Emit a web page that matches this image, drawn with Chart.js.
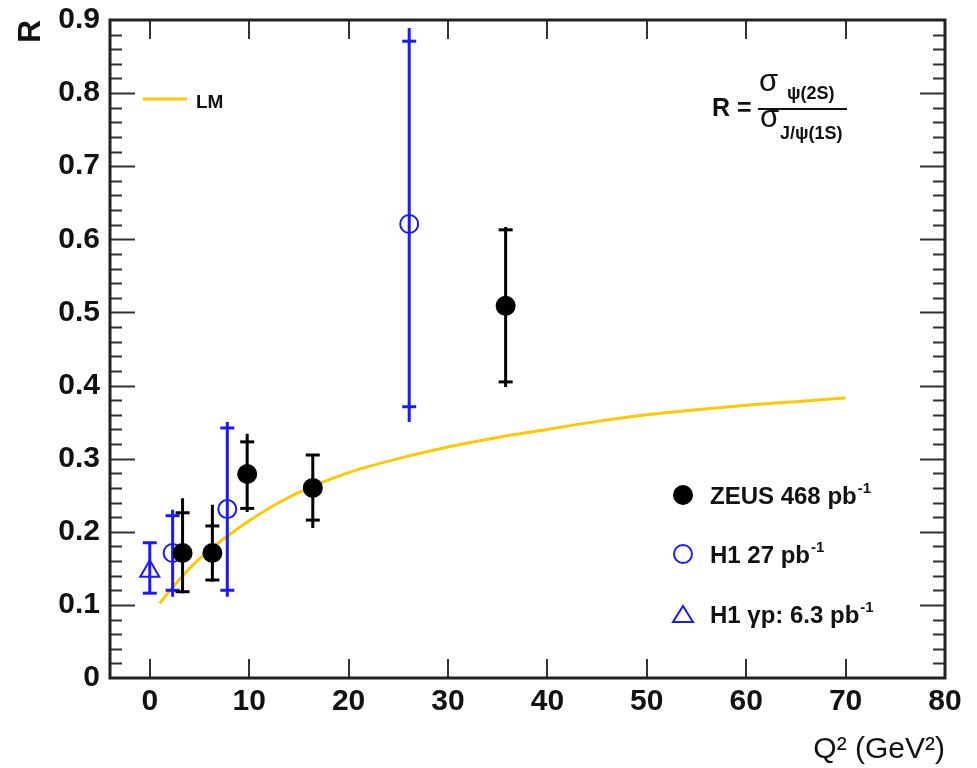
<!DOCTYPE html>
<html>
<head>
<meta charset="utf-8">
<title>R = psi(2S) / J/psi(1S) vs Q2</title>
<script src="https://cdn.jsdelivr.net/npm/chart.js@4.4.1/dist/chart.umd.min.js"></script>
<style>
  html, body { margin: 0; padding: 0; background: #fff; }
  #wrap { width: 977px; height: 768px; }
</style>
</head>
<body>
<div id="wrap"><canvas id="myChart" width="977" height="768"></canvas></div>
<script>
// ZEUS 468 pb-1 (filled circles), stat caps + total error line
const zeusQ2 = [3.3, 6.3, 9.8, 16.4, 35.8];
const zeusR = [0.171, 0.171, 0.279, 0.260, 0.509];
const zeusStatLo = [0.118, 0.134, 0.232, 0.216, 0.405];
const zeusStatHi = [0.226, 0.208, 0.323, 0.305, 0.613];
const zeusTotLo = [0.116, 0.132, 0.227, 0.205, 0.398];
const zeusTotHi = [0.246, 0.237, 0.334, 0.305, 0.617];

// H1 27 pb-1 (open circles)
const h1Q2 = [2.3, 7.8, 26.1];
const h1R = [0.171, 0.231, 0.621];
const h1StatLo = [0.120, 0.120, 0.371];
const h1StatHi = [0.222, 0.342, 0.871];
const h1TotLo = [0.111, 0.111, 0.350];
const h1TotHi = [0.230, 0.350, 0.889];

// H1 gamma-p 6.3 pb-1 (open triangle)
const gpQ2 = [0];
const gpR = [0.146];
const gpLo = [0.116];
const gpHi = [0.185];

// LM prediction
const lmQ2 = [1, 2, 4, 6, 8, 10, 13, 16, 20, 25, 30, 35, 40, 45, 50, 55, 60, 65, 70];
const lmR = [0.102, 0.119, 0.150, 0.175, 0.196, 0.215, 0.240, 0.260, 0.281, 0.300, 0.316, 0.329, 0.340, 0.351, 0.360, 0.367, 0.373, 0.378, 0.383];

const xTicks = [0, 10, 20, 30, 40, 50, 60, 70, 80];
const yTicks = [0, 0.1, 0.2, 0.3, 0.4, 0.5, 0.6, 0.7, 0.8, 0.9];

const BLUE = '#1a1aff';
const GOLD = '#ffc800';
const FONT = "'Liberation Sans', Arial, Helvetica, sans-serif";

function pts(q2, r) {
  return q2.map((x, i) => ({ x: x, y: r[i] }));
}

// vertical error line, broken between points by a null
function errLine(q2, lo, hi) {
  const out = [];
  q2.forEach((x, i) => {
    out.push({ x: x, y: lo[i] }, { x: x, y: hi[i] }, { x: x, y: null });
  });
  return out;
}

function caps(q2, lo, hi) {
  const out = [];
  q2.forEach((x, i) => {
    out.push({ x: x, y: lo[i] }, { x: x, y: hi[i] });
  });
  return out;
}

// inside ticks + frame, ROOT style
const frameTicks = {
  id: 'frameTicks',
  afterDraw(chart) {
    const { ctx, chartArea: a, scales: { x, y } } = chart;
    ctx.save();
    ctx.strokeStyle = '#333';
    ctx.lineWidth = 2;
    ctx.beginPath();
    xTicks.forEach(v => {
      const px = Math.round(x.getPixelForValue(v));
      if (px > a.left + 2 && px < a.right - 2) {
        ctx.moveTo(px, a.bottom); ctx.lineTo(px, a.bottom - 19);
        ctx.moveTo(px, a.top); ctx.lineTo(px, a.top + 19);
      }
    });
    for (let i = 1; i < 45; i++) {
      const py = Math.round(y.getPixelForValue(i * 0.02)) + 0.5;
      const len = i % 5 === 0 ? 25 : 12;
      ctx.moveTo(a.left, py); ctx.lineTo(a.left + len, py);
      ctx.moveTo(a.right, py); ctx.lineTo(a.right - len, py);
    }
    ctx.stroke();
    ctx.strokeStyle = '#222';
    ctx.lineWidth = 3;
    ctx.strokeRect(a.left, a.top, a.right - a.left, a.bottom - a.top);
    ctx.restore();
  }
};

// legend entries and the R formula
const notes = {
  id: 'notes',
  afterDraw(chart) {
    const ctx = chart.ctx;
    ctx.save();
    ctx.textBaseline = 'alphabetic';
    ctx.textAlign = 'left';

    // LM
    ctx.strokeStyle = GOLD;
    ctx.lineWidth = 3;
    ctx.beginPath(); ctx.moveTo(143, 99); ctx.lineTo(187, 99); ctx.stroke();
    ctx.fillStyle = '#111';
    ctx.font = 'bold 19px ' + FONT;
    ctx.fillText('LM', 196, 108);

    // markers
    ctx.fillStyle = '#000';
    ctx.beginPath(); ctx.arc(683, 495, 10, 0, Math.PI * 2); ctx.fill();
    ctx.strokeStyle = BLUE;
    ctx.lineWidth = 2;
    ctx.beginPath(); ctx.arc(683, 554, 9, 0, Math.PI * 2); ctx.stroke();
    ctx.beginPath();
    ctx.moveTo(683, 606); ctx.lineTo(693, 622); ctx.lineTo(673, 622); ctx.closePath();
    ctx.stroke();

    const rows = [['ZEUS 468 pb', 504], ['H1 27 pb', 563], ['H1 \u03b3p: 6.3 pb', 623]];
    ctx.fillStyle = '#111';
    rows.forEach(r => {
      ctx.font = 'bold 24px ' + FONT;
      ctx.fillText(r[0], 710, r[1]);
      const w = ctx.measureText(r[0]).width;
      ctx.font = 'bold 15px ' + FONT;
      ctx.fillText('-1', 710 + w + 1, r[1] - 11);
    });

    // R = sigma_psi(2S) / sigma_J/psi(1S)
    ctx.font = 'bold 25px ' + FONT;
    ctx.fillText('R =', 712, 116);
    ctx.strokeStyle = '#111';
    ctx.lineWidth = 2;
    ctx.beginPath(); ctx.moveTo(758, 109); ctx.lineTo(847, 109); ctx.stroke();
    ctx.font = '31px ' + FONT;
    ctx.fillText('\u03c3', 759, 91);
    ctx.fillText('\u03c3', 760, 127);
    ctx.font = 'bold 18px ' + FONT;
    ctx.fillText('\u03c8(2S)', 787, 99);
    ctx.fillText('J/\u03c8(1S)', 780, 139);
    ctx.restore();
  }
};

Chart.defaults.font.family = FONT;
Chart.defaults.color = '#111';

const ctx = document.getElementById('myChart');
const myChart = new Chart(ctx, {
  type: 'scatter',
  data: {
    datasets: [
      {
        label: 'LM',
        type: 'line',
        data: pts(lmQ2, lmR),
        borderColor: GOLD,
        borderWidth: 3,
        pointRadius: 0,
        cubicInterpolationMode: 'monotone',
        fill: false,
        order: 10
      },
      {
        label: 'ZEUS err',
        type: 'line',
        data: errLine(zeusQ2, zeusTotLo, zeusTotHi),
        borderColor: '#000',
        borderWidth: 3,
        pointRadius: 0,
        spanGaps: false,
        order: 5
      },
      {
        label: 'ZEUS caps',
        data: caps(zeusQ2, zeusStatLo, zeusStatHi),
        pointStyle: 'line',
        pointRadius: 7,
        pointBorderWidth: 3,
        borderColor: '#000',
        order: 4
      },
      {
        label: 'H1 err',
        type: 'line',
        data: errLine(h1Q2, h1TotLo, h1TotHi),
        borderColor: BLUE,
        borderWidth: 3,
        pointRadius: 0,
        spanGaps: false,
        order: 5
      },
      {
        label: 'H1 caps',
        data: caps(h1Q2, h1StatLo, h1StatHi),
        pointStyle: 'line',
        pointRadius: 7,
        pointBorderWidth: 3,
        borderColor: BLUE,
        order: 4
      },
      {
        label: 'H1 gp err',
        type: 'line',
        data: errLine(gpQ2, gpLo, gpHi),
        borderColor: BLUE,
        borderWidth: 3,
        pointRadius: 0,
        spanGaps: false,
        order: 5
      },
      {
        label: 'H1 gp caps',
        data: caps(gpQ2, gpLo, gpHi),
        pointStyle: 'line',
        pointRadius: 7,
        pointBorderWidth: 3,
        borderColor: BLUE,
        order: 4
      },
      {
        label: 'ZEUS 468 pb-1',
        data: pts(zeusQ2, zeusR),
        pointStyle: 'circle',
        pointRadius: 10,
        backgroundColor: '#000',
        borderWidth: 0,
        order: 1
      },
      {
        label: 'H1 27 pb-1',
        data: pts(h1Q2, h1R),
        pointStyle: 'circle',
        pointRadius: 9,
        backgroundColor: 'rgba(0,0,0,0)',
        borderColor: BLUE,
        borderWidth: 2,
        order: 1
      },
      {
        label: 'H1 gp: 6.3 pb-1',
        data: pts(gpQ2, gpR),
        pointStyle: 'triangle',
        pointRadius: 11,
        backgroundColor: 'rgba(0,0,0,0)',
        borderColor: BLUE,
        borderWidth: 2,
        order: 1
      }
    ]
  },
  options: {
    responsive: false,
    animation: false,
    devicePixelRatio: 1,
    layout: { padding: { left: 0, right: 32, top: 20, bottom: 0 } },
    plugins: {
      legend: { display: false },
      tooltip: { enabled: false }
    },
    scales: {
      x: {
        type: 'linear',
        min: -4,
        max: 80,
        afterBuildTicks: s => { s.ticks = xTicks.map(v => ({ value: v })); },
        afterFit: s => { s.height = 90; s.paddingLeft = 0; s.paddingRight = 0; },
        grid: { display: false, drawTicks: false },
        border: { display: false },
        ticks: {
          padding: 6,
          maxRotation: 0,
          font: { size: 30, weight: 'bold' },
          color: '#111'
        },
        title: {
          display: true,
          text: 'Q\u00b2 (GeV\u00b2)',
          align: 'end',
          padding: { top: 0, bottom: 0 },
          font: { size: 30, weight: 'normal' },
          color: '#111'
        }
      },
      y: {
        type: 'linear',
        min: 0,
        max: 0.9,
        afterBuildTicks: s => { s.ticks = yTicks.map(v => ({ value: v })); },
        afterFit: s => { s.width = 110; s.paddingTop = 0; s.paddingBottom = 0; },
        grid: { display: false, drawTicks: false },
        border: { display: false },
        ticks: {
          padding: 10,
          font: { size: 30, weight: 'bold' },
          color: '#111',
          callback: v => (v === 0 ? '0' : v.toFixed(1))
        },
        title: {
          display: true,
          text: 'R',
          align: 'end',
          padding: { top: 12, bottom: 0 },
          font: { size: 32, weight: 'bold' },
          color: '#111'
        }
      }
    }
  },
  plugins: [frameTicks, notes]
});
</script>
</body>
</html>
